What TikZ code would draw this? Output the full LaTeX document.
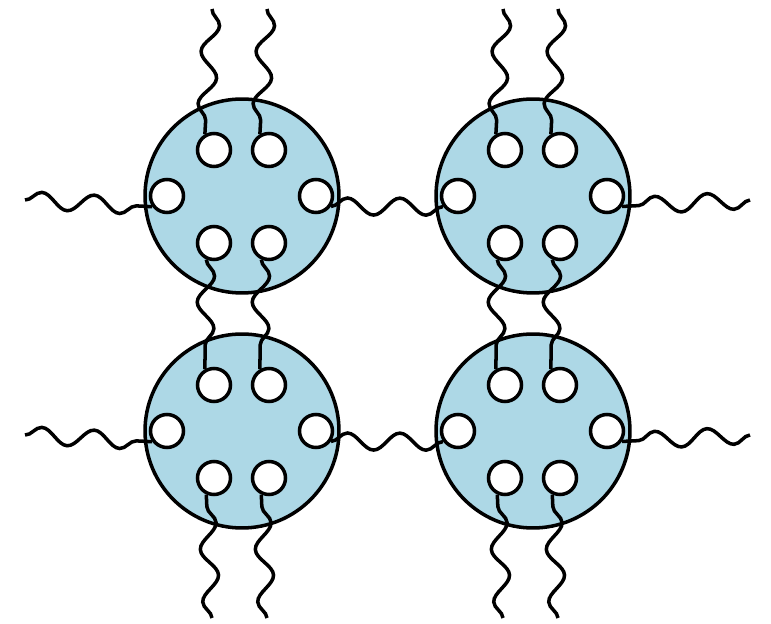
\documentclass[tikz,border=0pt]{standalone}
\usepackage{xcolor}
\usepackage{tikz}
\usetikzlibrary{decorations.pathmorphing}
\definecolor{cellblue}{HTML}{ADD8E6}

\begin{document}
\begin{tikzpicture}[x=0.02cm, y=-0.02cm, line width=2pt,
  cell/.style={circle, draw, fill=cellblue, minimum size=3.88cm, inner sep=0pt},
  pore/.style={circle, draw, fill=white, minimum size=0.66cm, inner sep=0pt},
  wave/.style={decorate, decoration={snake, segment length=1.05cm, amplitude=0.17cm}}]
\useasboundingbox (0,0) rectangle (771,624);
% cells, six pores each
\foreach \c/\cx/\cy in {a/242/196, b/533/196, c/242/431, d/533/431} {
  \node[cell] (\c) at (\cx,\cy) {};
  \node[pore] (\c-tl) at (\cx-28,\cy-46) {};
  \node[pore] (\c-tr) at (\cx+27,\cy-46) {};
  \node[pore] (\c-l) at (\cx-75,\cy) {};
  \node[pore] (\c-r) at (\cx+74,\cy) {};
  \node[pore] (\c-bl) at (\cx-28,\cy+47) {};
  \node[pore] (\c-br) at (\cx+27,\cy+47) {};
}
% free ends
\coordinate (a-tl-end) at (212,9);
\coordinate (a-tr-end) at (267,9);
\coordinate (b-tl-end) at (503,9);
\coordinate (b-tr-end) at (558,9);
\coordinate (c-bl-end) at (212,618);
\coordinate (c-br-end) at (267,618);
\coordinate (d-bl-end) at (503,618);
\coordinate (d-br-end) at (558,618);
\coordinate (a-l-end) at (25,200);
\coordinate (c-l-end) at (25,435);
\coordinate (b-r-end) at (750,200);
\coordinate (d-r-end) at (750,435);
% waves out of the top and bottom pores
\foreach \p in {a-tl,a-tr,b-tl,b-tr}
  \draw[wave] (\p-end) -- (\p.120);
\foreach \p in {c-bl,c-br,d-bl,d-br}
  \draw[wave] (\p-end) -- (\p.245);
% waves out of the side pores
\foreach \p in {a-l,c-l}
  \draw[wave] (\p-end) -- (\p.216);
\foreach \p in {b-r,d-r}
  \draw[wave] (\p-end) -- (\p.325);
% waves between cells
\foreach \p/\q in {a-r/b-l, c-r/d-l}
  \draw[wave] (\p.325) -- (\q.216);
\foreach \p/\q in {a-bl/c-tl, a-br/c-tr, b-bl/d-tl, b-br/d-tr}
  \draw[wave] (\p.245) -- (\q.120);
\end{tikzpicture}
\end{document}
